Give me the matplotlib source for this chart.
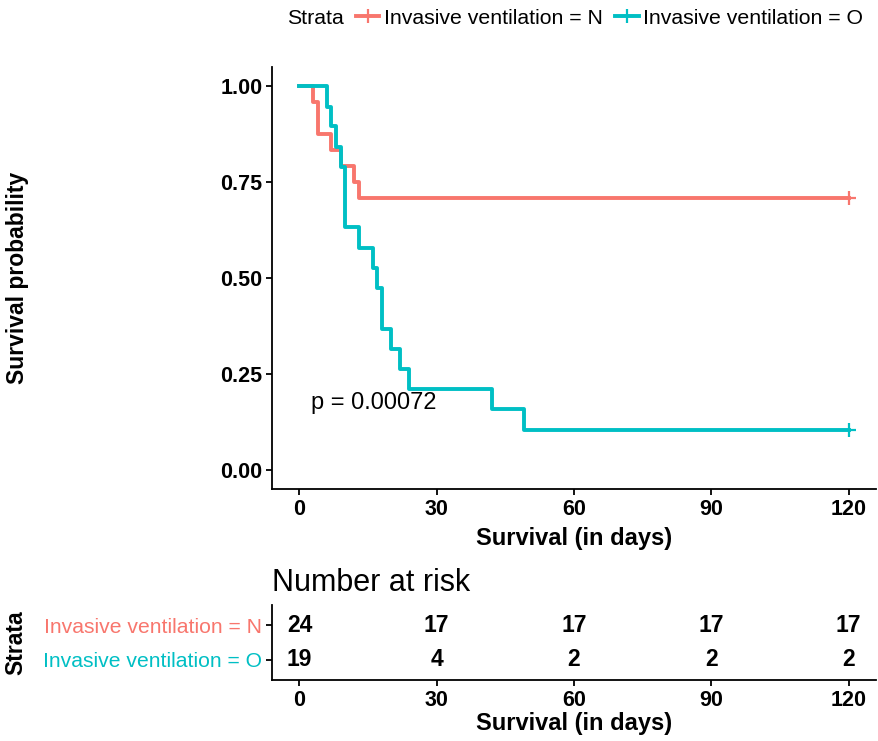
import matplotlib
matplotlib.use("Agg")
import matplotlib.pyplot as plt
from matplotlib.lines import Line2D

plt.rcParams["font.family"] = ["Liberation Sans", "DejaVu Sans"]

# Kaplan-Meier curves
time_n = [0, 3, 4, 7, 9, 12, 13, 120]
surv_n = [1.0, 0.958, 0.875, 0.833, 0.792, 0.750, 0.708, 0.708]
time_o = [0, 6, 7, 8, 9, 10, 13, 16, 17, 18, 20, 22, 24, 42, 49, 120]
surv_o = [1.0, 0.947, 0.895, 0.842, 0.789, 0.632, 0.579, 0.526, 0.474,
          0.368, 0.316, 0.263, 0.211, 0.158, 0.105, 0.105]
censor_t = [120, 120]
censor_s = [0.708, 0.105]

strata = ["Invasive ventilation = N", "Invasive ventilation = O"]
colors = ["#F8766D", "#00BFC4"]

risk_times = [0, 30, 60, 90, 120]
risk_n = [24, 17, 17, 17, 17]
risk_o = [19, 4, 2, 2, 2]
x_ticks = [0, 30, 60, 90, 120]
y_ticks = [0.0, 0.25, 0.5, 0.75, 1.0]
p_text = "p = 0.00072"

W, H = 879, 741
fig = plt.figure(figsize=(W / 100, H / 100), dpi=100)

def box(l, t, r, b):
    return [l / W, 1 - b / H, (r - l) / W, (b - t) / H]

ax = fig.add_axes(box(272, 67, 876, 489))
axr = fig.add_axes(box(272, 605, 876, 680))

lw = 2.8
ax.step(time_n, surv_n, where="post", color=colors[0], lw=lw)
ax.step(time_o, surv_o, where="post", color=colors[1], lw=lw)
ax.plot(censor_t[0], censor_s[0], "+", color=colors[0], ms=10, mew=1.6)
ax.plot(censor_t[1], censor_s[1], "+", color=colors[1], ms=10, mew=1.6)
ax.text(2.6, 0.175, p_text, fontsize=17, ha="left", va="center")

for a in (ax, axr):
    a.set_xlim(-6, 126)
    a.set_xticks(x_ticks)
    for s in ("top", "right"):
        a.spines[s].set_visible(False)
    for s in ("left", "bottom"):
        a.spines[s].set_linewidth(1.3)
    a.tick_params(width=1.3, length=4, labelsize=15.5, pad=3)
    for lab in a.get_xticklabels():
        lab.set_fontweight("bold")

ax.set_ylim(-0.05, 1.05)
ax.set_yticks(y_ticks, [f"{v:.2f}" for v in y_ticks])
for lab in ax.get_yticklabels():
    lab.set_fontweight("bold")
ax.set_xlabel("Survival (in days)", fontsize=17, fontweight="bold", labelpad=5)
ax.set_ylabel("Survival probability", fontsize=16.5, fontweight="bold")
ax.yaxis.set_label_coords(-0.402, 0.5)

# risk table
axr.set_ylim(0.4, 2.6)
for t, n in zip(risk_times, risk_n):
    axr.text(t, 2, str(n), ha="center", va="center", fontsize=16.5, fontweight="bold")
for t, n in zip(risk_times, risk_o):
    axr.text(t, 1, str(n), ha="center", va="center", fontsize=16.5, fontweight="bold")
axr.set_yticks([2, 1], strata)
for lab, c in zip(axr.get_yticklabels(), colors):
    lab.set_color(c)
    lab.set_fontsize(15.2)
    lab.set_fontweight("normal")
axr.set_xlabel("Survival (in days)", fontsize=17, fontweight="bold", labelpad=1)
axr.set_ylabel("Strata", fontsize=16.5, fontweight="bold")
axr.yaxis.set_label_coords(-0.405, 0.5)
axr.set_title("Number at risk", loc="left", fontsize=22, pad=10)

# legend on top
fig.text(287 / W, 1 - 18 / H, "Strata", fontsize=15.3, ha="left", va="center")
handles = [Line2D([], [], color=c, lw=lw, marker="+", ms=10, mew=1.6) for c in colors]
fig.legend(handles, strata, ncol=2, loc="center left",
           bbox_to_anchor=(356 / W, 1 - 18 / H), frameon=False, fontsize=15.3,
           handlelength=1.1, handletextpad=0.2, columnspacing=0.6,
           borderpad=0, borderaxespad=0)

fig.savefig("out.png", dpi=100)
